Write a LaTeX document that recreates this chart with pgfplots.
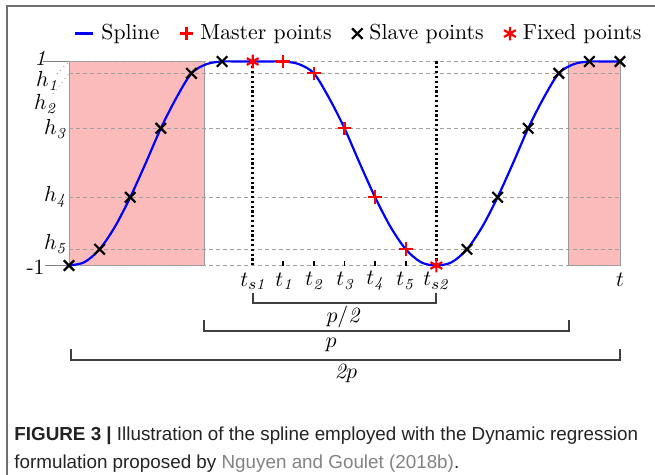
\documentclass[border=0pt]{standalone}
\usepackage{pgfplots}
\pgfplotsset{compat=1.18}
\usepackage{fontspec}
\newfontfamily\capfont{Liberation Sans}
\definecolor{pinkfill}{RGB}{251,187,187}
\definecolor{gridgray}{RGB}{160,160,160}
\definecolor{framegray}{RGB}{110,110,110}
\definecolor{linkgray}{RGB}{130,130,130}
\definecolor{capblack}{RGB}{35,35,35}
\pgfplotsset{markleg/.style={legend image code/.code={\draw[##1] plot coordinates {(4bp,0cm)};}}}
\begin{document}
\begin{tikzpicture}
\begin{scope}[x=0.5bp,y=-0.5bp]
\draw[framegray, line width=1bp] (7,475) -- (7,6) -- (655,6);
\end{scope}
\begin{axis}[
  at={(34.5bp,-132.75bp)}, anchor=south west,
  scale only axis, width=275.5bp, height=102bp,
  xmin=0, xmax=18, ymin=-1, ymax=1,
  hide axis, clip=false,
  legend columns=4,
  legend style={draw=none, fill=none, at={(0.527,1.137)}, anchor=center,
    font=\fontsize{10.9}{13}\selectfont,
    nodes={inner xsep=1.5bp},
    /tikz/every odd column/.append style={column sep=2bp},
    /tikz/every even column/.append style={column sep=8.7bp}},
]
% shaded regions
\addplot[fill=pinkfill, draw=gray!80, line width=0.4bp, forget plot] coordinates {(0,-1) (4.41,-1) (4.41,1) (0,1)} -- cycle;
\addplot[fill=pinkfill, draw=gray!80, line width=0.4bp, forget plot] coordinates {(16.3,-1) (18,-1) (18,1) (16.3,1)} -- cycle;
% level lines
\addplot[gridgray, dash pattern=on 2bp off 1.5bp, line width=0.4bp, forget plot] coordinates {(0,1) (18,1)};
\addplot[gridgray, dash pattern=on 2bp off 1.5bp, line width=0.4bp, forget plot] coordinates {(0,0.884) (18,0.884)};
\addplot[gridgray, dash pattern=on 2bp off 1.5bp, line width=0.4bp, forget plot] coordinates {(0,0.345) (18,0.345)};
\addplot[gridgray, dash pattern=on 2bp off 1.5bp, line width=0.4bp, forget plot] coordinates {(0,-0.331) (18,-0.331)};
\addplot[gridgray, dash pattern=on 2bp off 1.5bp, line width=0.4bp, forget plot] coordinates {(0,-0.841) (18,-0.841)};
\addplot[gridgray, dash pattern=on 2bp off 1.5bp, line width=0.4bp, forget plot] coordinates {(0,-1) (18,-1)};
\addplot[gray, line width=0.5bp, forget plot] coordinates {(-0.85,1) (0,1)};
\addplot[gray, line width=0.5bp, forget plot] coordinates {(-0.78,-1) (0,-1)};
% vertical dotted lines at ts1, ts2
\addplot[black, line width=1.2bp, dash pattern=on 1.1bp off 1.3bp, forget plot] coordinates {(6,1) (6,-1)};
\addplot[black, line width=1.2bp, dash pattern=on 1.1bp off 1.3bp, forget plot] coordinates {(12,1) (12,-1)};
% small ticks t1..t5
\addplot[black, line width=0.9bp, forget plot] coordinates {(7,-1) (7,-0.955)};
\addplot[black, line width=0.9bp, forget plot] coordinates {(8,-1) (8,-0.955)};
\addplot[black, line width=0.9bp, forget plot] coordinates {(9,-1) (9,-0.955)};
\addplot[black, line width=0.9bp, forget plot] coordinates {(10,-1) (10,-0.955)};
\addplot[black, line width=0.9bp, forget plot] coordinates {(11,-1) (11,-0.955)};
% spline
\addplot[blue, line width=1.1bp, smooth, tension=0.5,
  legend image code/.code={\draw[blue, line width=1.1bp] (0cm,0cm) -- (9bp,0cm);}]
coordinates {
(0,-1) (0.5,-0.968) (1,-0.841) (1.5,-0.62) (2,-0.331) (2.5,0.0) (3,0.345) (3.5,0.64) (4,0.884) (4.5,0.975) (5,1)
(5.5,1) (6,1) (6.5,1) (7,1)
(7.5,0.975) (8,0.884) (8.5,0.64) (9,0.345) (9.5,0.0) (10,-0.331) (10.5,-0.62) (11,-0.841) (11.5,-0.968) (12,-1)
(12.5,-0.968) (13,-0.841) (13.5,-0.62) (14,-0.331) (14.5,0.0) (15,0.345) (15.5,0.64) (16,0.884) (16.5,0.975) (17,1)
(17.5,1) (18,1)
};
\addlegendentry{Spline}
\addplot[red, only marks, mark=+, mark size=3.4bp, line width=1.1bp, markleg]
coordinates {(7,1) (8,0.884) (9,0.345) (10,-0.331) (11,-0.841)};
\addlegendentry{Master points}
\addplot[black, only marks, mark=x, mark size=3.7bp, line width=1.1bp, markleg]
coordinates {(0,-1) (1,-0.841) (2,-0.331) (3,0.345) (4,0.884) (5,1) (13,-0.841) (14,-0.331) (15,0.345) (16,0.884) (17,1) (18,1)};
\addlegendentry{Slave points}
\addplot[red, only marks, mark=asterisk, mark size=3.4bp, line width=1.1bp, markleg]
coordinates {(6,1) (12,-1)};
\addlegendentry{Fixed points}
\end{axis}
\begin{scope}[x=0.5bp,y=-0.5bp, font=\fontsize{10.9}{13}\selectfont]
\node[anchor=east, inner sep=0] at (46,58) {$\mathit{1}$};
\node at (47,81) {$h_{\mathit{1}}$};
\node at (45,104) {$h_{\mathit{2}}$};
\node at (55,129) {$h_{\mathit{3}}$};
\node at (55,197) {$h_{\mathit{4}}$};
\node at (55,244) {$h_{\mathit{5}}$};
\node[anchor=east, inner sep=0] at (45,267) {-1};
\draw[gray, dotted, line width=0.4bp] (57,74) -- (69,61.5);
\draw[gray, dotted, line width=0.4bp] (53,94) -- (69,73.5);
\node at (253,281) {$t_{s\mathit{1}}$};
\node at (284,281) {$t_{\mathit{1}}$};
\node at (314,281) {$t_{\mathit{2}}$};
\node at (345,281) {$t_{\mathit{3}}$};
\node at (375,281) {$t_{\mathit{4}}$};
\node at (405,281) {$t_{\mathit{5}}$};
\node at (436,281) {$t_{s\mathit{2}}$};
\node at (620,280) {$t$};
\draw[black!75, line width=0.6bp] (253,293) -- (253,303) -- (436,303) -- (436,293);
\draw[black!75, line width=0.6bp] (204,320) -- (204,331) -- (569,331) -- (569,320);
\draw[black!75, line width=0.6bp] (71,349) -- (71,360) -- (620,360) -- (620,349);
\node at (343,317) {$p/\mathit{2}$};
\node at (331,345) {$p$};
\node at (346,373) {$\mathit{2}p$};
\node[anchor=base west, inner sep=0] at (14,441) {\capfont\fontsize{9.45}{11}\selectfont\color{capblack}\textbf{FIGURE 3 |} Illustration of the spline employed with the Dynamic regression};
\node[anchor=base west, inner sep=0] at (14,468) {\capfont\fontsize{9.45}{11}\selectfont\color{capblack}formulation proposed by {\color{linkgray}Nguyen and Goulet (2018b)}.};
\pgfresetboundingbox
\path[use as bounding box] (0,0) rectangle (655,475);
\end{scope}
\end{tikzpicture}
\end{document}
